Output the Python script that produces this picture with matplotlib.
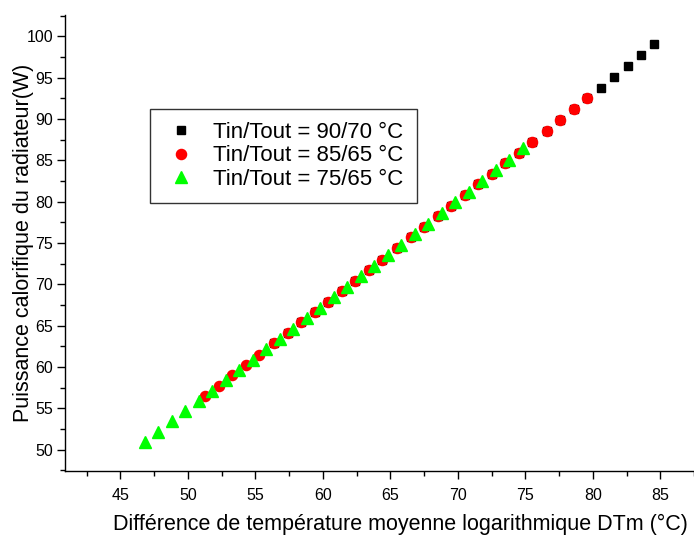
import matplotlib
matplotlib.use("Agg")
import matplotlib.pyplot as plt

plt.rcParams['font.family'] = ['Liberation Sans', 'DejaVu Sans']

# Tin/Tout = 90/70 °C
dtm_90_70 = [56.4, 57.4, 58.4, 59.4, 60.4, 61.4, 62.4, 63.4, 64.4, 65.5,
             66.5, 67.5, 68.5, 69.5, 70.5, 71.5, 72.5, 73.5, 74.5, 75.5,
             76.6, 77.6, 78.6, 79.6, 80.6, 81.6, 82.6, 83.6, 84.5]
p_90_70 = [62.87, 64.13, 65.39, 66.64, 67.91, 69.17, 70.44, 71.71, 72.98, 74.39,
           75.67, 76.95, 78.24, 79.53, 80.82, 82.11, 83.40, 84.69, 85.95, 87.20,
           88.55, 89.90, 91.20, 92.50, 93.80, 95.10, 96.40, 97.80, 99.10]

# Tin/Tout = 85/65 °C
dtm_85_65 = [51.3, 52.3, 53.3, 54.3, 55.3, 56.4, 57.4, 58.4, 59.4, 60.4,
             61.4, 62.4, 63.4, 64.4, 65.5, 66.5, 67.5, 68.5, 69.5, 70.5,
             71.5, 72.5, 73.5, 74.5, 75.5, 76.6, 77.6, 78.6, 79.6]
p_85_65 = [56.50, 57.74, 58.98, 60.23, 61.49, 62.87, 64.13, 65.39, 66.64, 67.91,
           69.17, 70.44, 71.71, 72.98, 74.39, 75.67, 76.95, 78.24, 79.53, 80.82,
           82.11, 83.40, 84.69, 85.95, 87.20, 88.55, 89.90, 91.20, 92.50]

# Tin/Tout = 75/65 °C
dtm_75_65 = [46.8, 47.8, 48.8, 49.8, 50.8, 51.8, 52.8, 53.8, 54.8, 55.8,
             56.8, 57.8, 58.8, 59.8, 60.8, 61.8, 62.8, 63.8, 64.8, 65.8,
             66.8, 67.8, 68.8, 69.8, 70.8, 71.8, 72.8, 73.8, 74.8]
p_75_65 = [50.95, 52.18, 53.41, 54.64, 55.88, 57.12, 58.36, 59.61, 60.86, 62.11,
           63.37, 64.63, 65.89, 67.15, 68.41, 69.68, 70.95, 72.22, 73.49, 74.77,
           76.05, 77.33, 78.62, 79.91, 81.20, 82.49, 83.78, 85.08, 86.45]

labels = ['Tin/Tout = 90/70 °C', 'Tin/Tout = 85/65 °C', 'Tin/Tout = 75/65 °C']

fig = plt.figure(figsize=(6.94, 5.36), dpi=100)
ax = fig.add_axes([65 / 694, 1 - 471 / 536, 629 / 694, 456 / 536])

ax.plot(dtm_90_70, p_90_70, 's', color='black', markersize=6.3, label=labels[0])
ax.plot(dtm_85_65, p_85_65, 'o', color='#ff0000', markersize=7.3, label=labels[1])
ax.plot(dtm_75_65, p_75_65, '^', color='#00ff00', markersize=8.2, label=labels[2])

ax.set_xlim(40.9, 87.1)
ax.set_ylim(47.4, 102.6)
ax.set_xticks(range(45, 90, 5))
ax.set_yticks(range(50, 105, 5))
ax.set_xticks([x + 2.5 for x in range(40, 90, 5)], minor=True)
ax.set_yticks([y + 2.5 for y in range(45, 105, 5)], minor=True)

ax.spines['top'].set_visible(False)
ax.spines['right'].set_visible(False)
ax.spines['left'].set_linewidth(1.0)
ax.spines['bottom'].set_linewidth(1.0)
ax.tick_params(which='major', direction='out', length=6, width=1.0, labelsize=11.5)
ax.tick_params(which='minor', direction='out', length=3.5, width=1.0)
ax.tick_params(axis='x', which='major', pad=6)
ax.tick_params(axis='y', which='major', pad=2.5)

ax.set_xlabel('Différence de température moyenne logarithmique DTm (°C)', fontsize=15.5)
ax.set_ylabel('Puissance calorifique du radiateur(W)', fontsize=15.5)
ax.xaxis.set_label_coords(0.533, -0.095)
ax.yaxis.set_label_coords(-0.05, 0.5)

leg = ax.legend(loc='upper left', bbox_to_anchor=(0.135, 0.794), borderaxespad=0,
                fontsize=16, numpoints=1, handlelength=1.6, handletextpad=0.65,
                labelspacing=0.1, borderpad=0.6, fancybox=False, frameon=True)
leg.get_frame().set_edgecolor('black')
leg.get_frame().set_linewidth(1.0)

fig.savefig('out.png', dpi=100)
